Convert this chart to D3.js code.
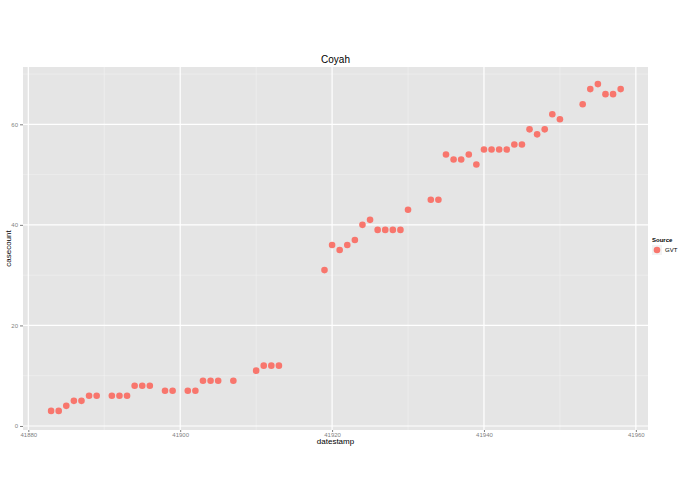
<!DOCTYPE html>
<html><head><meta charset="utf-8">
<script src="https://cdn.jsdelivr.net/npm/d3@7"></script>
<style>body{margin:0;background:#fff}text{font-family:"Liberation Sans",Arial,sans-serif}</style>
</head><body>
<svg id="chart" width="695" height="494"></svg>
<script>
const days = [41883,41884,41885,41886,41887,41888,41889,41891,41892,41893,41894,41895,41896,41898,41899,41901,41902,41903,41904,41905,41907,41910,41911,41912,41913,
  41919,41920,41921,41922,41923,41924,41925,41926,41927,41928,41929,41930,41933,41934,41935,41936,41937,41938,41939,41940,41941,41942,41943,41944,41945,41946,41947,41948,41949,41950,41953,41954,41955,41956,41957,41958];
const counts = [3,3,4,5,5,6,6,6,6,6,8,8,8,7,7,7,7,9,9,9,9,11,12,12,12,
  31,36,35,36,37,40,41,39,39,39,39,43,45,45,54,53,53,54,52,55,55,55,55,56,56,59,58,59,62,61,64,67,68,66,66,67];
const xTicks = [41880,41900,41920,41940,41960];
const yTicks = [0,20,40,60];

const svg = d3.select("#chart");
const m = {left: 23, right: 47, top: 67, bottom: 64};
const W = 695, H = 494;
const x = d3.scaleLinear().domain([41879.3, 41961.6]).range([m.left, W - m.right]);
const y = d3.scaleLinear().domain([-0.8, 71.4]).range([H - m.bottom, m.top]);

svg.append("rect").attr("x", m.left).attr("y", m.top)
  .attr("width", W - m.right - m.left).attr("height", H - m.bottom - m.top).attr("fill", "#e5e5e5");

const g = svg.append("g");
// minor grid
g.selectAll(".mx").data([41890,41910,41930,41950]).enter().append("line")
  .attr("x1", d => x(d)).attr("x2", d => x(d)).attr("y1", m.top).attr("y2", H - m.bottom)
  .attr("stroke", "#f2f2f2").attr("stroke-width", 0.6);
g.selectAll(".my").data([10,30,50,70]).enter().append("line")
  .attr("y1", d => y(d)).attr("y2", d => y(d)).attr("x1", m.left).attr("x2", W - m.right)
  .attr("stroke", "#f2f2f2").attr("stroke-width", 0.6);
// major grid
g.selectAll(".gx").data(xTicks).enter().append("line")
  .attr("x1", d => x(d)).attr("x2", d => x(d)).attr("y1", m.top).attr("y2", H - m.bottom)
  .attr("stroke", "#fff").attr("stroke-width", 1.2);
g.selectAll(".gy").data(yTicks).enter().append("line")
  .attr("y1", d => y(d)).attr("y2", d => y(d)).attr("x1", m.left).attr("x2", W - m.right)
  .attr("stroke", "#fff").attr("stroke-width", 1.2);

const xa = svg.append("g").attr("transform", `translate(0,${H - m.bottom})`)
  .call(d3.axisBottom(x).tickValues(xTicks).tickFormat(d3.format("d")).tickSize(2).tickPadding(1));
const ya = svg.append("g").attr("transform", `translate(${m.left},0)`)
  .call(d3.axisLeft(y).tickValues(yTicks).tickSize(3).tickPadding(2));
[xa, ya].forEach(a => {
  a.select(".domain").remove();
  a.selectAll("line").attr("stroke", "#7f7f7f");
  a.selectAll("text").attr("fill", "#7f7f7f").attr("font-size", 6);
});

svg.selectAll(".pt").data(days).enter().append("circle")
  .attr("cx", d => x(d)).attr("cy", (d, i) => y(counts[i])).attr("r", 3.3).attr("fill", "#f8766d");

svg.append("text").attr("x", (m.left + W - m.right) / 2).attr("y", 63).attr("text-anchor", "middle")
  .attr("font-size", 10).text("Coyah");
svg.append("text").attr("x", (m.left + W - m.right) / 2).attr("y", 444).attr("text-anchor", "middle")
  .attr("font-size", 8).text("datestamp");
svg.append("text").attr("transform", `translate(11,${(m.top + H - m.bottom) / 2}) rotate(-90)`)
  .attr("text-anchor", "middle").attr("font-size", 8).text("casecount");

const lg = svg.append("g").attr("transform", "translate(652,0)");
lg.append("text").attr("x", 0).attr("y", 242).attr("font-size", 6).attr("font-weight", "bold").text("Source");
lg.append("rect").attr("x", 0).attr("y", 245).attr("width", 10).attr("height", 10).attr("fill", "#f2f2f2");
lg.append("circle").attr("cx", 5).attr("cy", 250).attr("r", 3.3).attr("fill", "#f8766d");
lg.append("text").attr("x", 13).attr("y", 252).attr("font-size", 6).text("GVT");
</script>
</body></html>
